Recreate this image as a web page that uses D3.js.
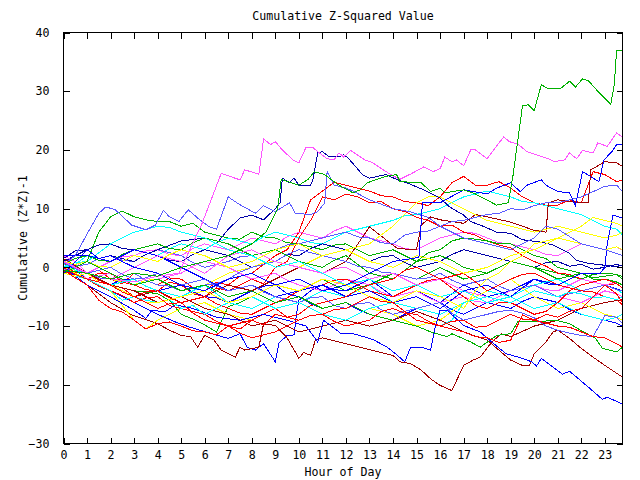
<!DOCTYPE html>
<html><head><meta charset="utf-8">
<script src="https://cdn.jsdelivr.net/npm/d3@7/dist/d3.min.js"></script>
<style>
body{margin:0;background:#fff}
svg{display:block}
text{font-family:"DejaVu Sans Mono","Liberation Mono",monospace;font-size:11.6px;fill:#000}
</style>
</head><body>
<svg id="chart" width="640" height="480"></svg>
<script>
// ---------- data ----------
const title = "Cumulative Z-Squared Value";
const xLabel = "Hour of Day";
const yLabel = "Cumulative (Z*Z)-1";
const xTickValues = [0,1,2,3,4,5,6,7,8,9,10,11,12,13,14,15,16,17,18,19,20,21,22,23];
const yTickValues = [-30, -20, -10, 0, 10, 20, 30, 40];
// half-hour sample times for the series listed as plain value arrays
const hours = [0,0.5,1,1.5,2,2.5,3,3.5,4,4.5,5,5.5,6,6.5,7,7.5,8,8.5,9,9.5,10,10.5,11,11.5,12,12.5,13,13.5,14,14.5,15,15.5,16,16.5,17,17.5,18,18.5,19,19.5,20,20.5,21,21.5,22,22.5,23,23.5,23.75];

// series given as [hour, value] pairs
const gTop = [[0,-0.5],[1,-1],[2,-2],[3,-1],[4,-1.5],[5,0],[6,1],[7,2],[8,4],[8.6,6],[9.1,10],[9.25,15],[9.6,14.5],[10,14],[10.4,15],[10.65,16.3],[11.1,15.8],[11.7,14],[12.3,12.7],[12.6,13.2],[12.9,14.4],[13.7,15.5],[14.15,15.8],[14.3,14.6],[15.2,14.4],[15.6,12.9],[16,13.5],[16.2,12.7],[17,13.2],[17.5,12.5],[18.4,10.6],[18.9,11],[19.1,15.7],[19.5,27.5],[19.75,27.7],[20,26.7],[20.3,31.1],[20.6,30.4],[21.1,30.4],[21.5,31.7],[21.75,30.7],[22.05,32.1],[22.3,31.8],[22.7,30],[23.25,27.8],[23.4,31.1],[23.5,36.9],[23.75,36.9]];
const mTop = [[0,1],[1,-1],[2,-2],[3,-2.5],[4,-1.5],[4.9,-1],[5.9,7.6],[6.7,16],[7.5,14.9],[7.7,16.6],[8.2,16],[8.3,15.8],[8.5,21.9],[8.8,20.9],[9,21.4],[9.3,20],[9.75,18.3],[10,17.8],[10.3,20.4],[10.6,20.4],[10.8,19.7],[11.2,18.5],[11.5,18.3],[11.7,19.5],[11.9,18.8],[12.2,19.9],[12.8,18.3],[13.1,17.9],[13.9,15.8],[14.3,15],[14.8,16],[15.3,17.1],[15.7,16.3],[16,16.8],[16.2,18.8],[16.5,18],[16.7,18.3],[17,17.3],[17.3,20],[17.5,20],[18,18.5],[18.35,20.4],[18.7,22.2],[18.95,21.4],[19.3,21],[19.7,19.7],[20.6,18.5],[20.85,18],[21.3,18.3],[21.5,19.5],[21.8,18.5],[22.05,19.9],[22.5,19.5],[22.7,21.2],[23.1,20.6],[23.5,22.9],[23.75,22.2]];
const nHigh = [[0,1],[0.5,2],[1,3],[1.5,1.5],[2,2],[3,1],[3.5,2.2],[4,3],[5,4.5],[6,5],[6.5,4],[7,6.5],[7.5,8.4],[8,8.9],[8.5,8.1],[9,10],[9.2,11],[9.3,15.2],[9.6,14.4],[9.8,15.2],[10,14],[10.5,14],[10.6,15],[10.8,19.5],[11,19.7],[11.3,18.8],[11.7,18.8],[11.9,19.2],[12.1,18.6],[12.7,15.8],[13,15.2],[13.7,15.8],[14.2,14.9],[14.6,14.4],[15.3,13.2],[16,11.8],[16.4,10.3],[17,8.9],[17.3,7.8],[17.9,6.9],[18.4,6],[19,5.8],[19.5,4.7],[20.3,4.3],[20.8,3.8],[21.5,2.4],[21.8,1.2],[22.3,0.7],[22.9,0.4],[23.75,0]];
const bHigh = [[0,-1],[1,3],[1.5,1.5],[2,2],[3,0],[4,-1],[5,-3],[6,-4],[7,-2],[8,-1],[9,-3],[10,-2],[11,-4],[12,-3],[13,-1],[14,1],[15.1,1.7],[15.25,11],[16,11],[17,13.2],[18,12.5],[18.4,13.5],[19,14.4],[19.4,12.9],[19.7,14],[20.3,14.9],[20.5,14],[21,12.9],[21.5,12.7],[21.75,10.5],[22.05,16.3],[22.75,14.6],[22.96,18.3],[23.3,19.7],[23.5,20.9],[23.75,21]];
const lHigh = [[0,0.5],[0.5,2],[1.1,6.4],[1.5,9.2],[1.8,10.3],[2.2,9.8],[2.9,7.2],[3.5,6.4],[3.9,7.2],[4.25,9.7],[4.5,8.6],[4.9,7.8],[5.3,9.8],[5.7,8.4],[6.2,6.9],[6.5,6.5],[7,12],[7.4,10.9],[8.15,9.2],[8.5,10.5],[9,9.5],[9.6,11],[9.85,9.2],[10.5,9],[10.8,9.5],[11.1,11],[11.2,16.3],[11.5,14],[12,13.5],[12.3,13],[13,11.5],[14,10],[14.7,9.5],[15.5,8.5],[16,7],[17,5],[18,4],[19,3],[20,5],[20.5,7],[21,6.5],[22,4],[23,3],[23.75,2]];
const drHigh = [[0,-0.5],[1,-2],[2,-3],[3,-5],[4,-4],[5,-6],[6,-5],[7,-3],[8,-4],[9,-2],[10,0],[11,-1],[12,1],[13,6.9],[13.7,4.7],[14.2,3.2],[15,3],[15.2,7.2],[15.6,8.6],[16,8.1],[17,7.5],[17.5,9],[18,8.6],[19,7.7],[20,6.3],[20.5,6],[20.6,11],[21,11.5],[22,11],[22.3,11],[22.4,16.6],[23,18],[23.5,17.8],[23.75,17.2]];
const bLow = [[0,0],[1,-3],[2,-5],[3,-7.3],[3.5,-8.7],[3.75,-7.3],[4.3,-7.6],[4.75,-6.4],[5.5,-7],[6.5,-8.5],[7.5,-9],[8.5,-8],[9.5,-9],[10.3,-10],[10.8,-12.7],[11.05,-9],[11.8,-11.3],[12.3,-11.3],[12.75,-11.8],[13.2,-12.4],[13.75,-13.6],[14.1,-14.7],[14.5,-16.1],[14.75,-13.6],[15.2,-13.6],[15.6,-14.1],[15.8,-10],[16,-7.3],[16.3,-7.3],[17,-9.9],[17.7,-11],[18.1,-12.4],[18.8,-14.7],[19.5,-15.5],[19.9,-16.1],[20.1,-16.8],[20.3,-15.5],[20.7,-16.7],[21.2,-18.2],[21.5,-17.7],[22.3,-20.4],[22.9,-22.5],[23.1,-22.1],[23.75,-23.3]];
const bJump = [[0,1],[1,-2],[2,-4],[3,-6],[4,-8],[4.75,-9.3],[5.3,-10.1],[6.3,-11.3],[7,-12.1],[7.5,-11.3],[7.8,-13.6],[8.15,-14.1],[8.5,-13],[9,-16.1],[9.15,-12.9],[9.5,-11.6],[9.8,-11.5],[9.9,-7.9],[10,-5.6],[10.5,-4],[11,-3],[11.5,-3.8],[12,-4],[13,-2],[13.5,-3.5],[14,-5],[15,-4],[16,-6],[16.5,-4.5],[17,-3],[18,-5],[19,-4],[20,-2],[20.5,-2.8],[21,-3],[22,-4],[23,-3],[23.75,-4]];
const bEnd = [[0,2],[1,2],[2,1],[3,3],[4,2],[5,0],[6,-2],[7,-4],[8,-3],[9,-5],[10,-4],[11,-3],[12,-5],[13,-4],[14,-6],[15,-5],[16,-7],[17,-4],[18,-3],[19,-5],[20,-2],[21,-3],[22,-1],[22.8,-1],[23,0],[23.1,4],[23.35,8.9],[23.75,8.4]];
const drLow = [[0,0],[1,-3],[2,-6],[2.9,-8.1],[4,-9.6],[4.5,-10.7],[5,-11.6],[5.4,-11.8],[5.7,-13.6],[6,-11.6],[6.4,-12.4],[6.7,-14.1],[7.3,-15.3],[7.5,-13.6],[7.7,-14.1],[8.3,-13.6],[8.5,-9.6],[9,-9.9],[9.5,-12],[10,-15.5],[10.2,-14.5],[10.5,-15],[10.7,-12.4],[11,-12],[12,-13],[13,-14],[14,-15],[14.3,-16.1],[14.75,-16.4],[15.2,-17.5],[15.6,-19],[16,-20.1],[16.5,-21],[17,-16.7],[17.4,-15.8],[17.7,-15.3],[18.2,-12.7],[18.6,-11.3],[19,-11.8],[20,-10],[21,-9],[22,-7],[23,-6],[23.75,-5.5]];
const drEnd = [[0,1.5],[1,-1],[2,-3],[3,-4],[4,-6],[5,-5],[6,-7],[7,-8],[8,-10],[9,-9],[10,-11],[11,-10],[12,-9],[13,-10],[14,-9],[15,-7.5],[16,-9],[17,-11],[18,-12.4],[18.5,-14.1],[19,-15.8],[19.5,-16.7],[19.8,-16.7],[20,-14.7],[20.5,-12.7],[20.8,-11],[21,-10.7],[21.5,-12.1],[22,-13.8],[22.5,-15.3],[23,-16.7],[23.75,-18.7]];
const gLow = [[0,-1],[1,1],[2,-1],[3,-3],[4,-2],[5,-4],[6,-3],[7,-5],[8,-4],[9,-6],[10,-5],[11,-7],[12,-6],[13,-8],[14,-9],[15,-10],[15.6,-11],[16.3,-11.8],[16.5,-11.3],[17.3,-12.7],[17.7,-13.6],[18.4,-11.6],[19,-11.3],[19.3,-9.3],[20,-9.3],[20.9,-9],[21.5,-9.6],[22.1,-11],[22.6,-12.1],[22.9,-13.8],[23.5,-14.4],[23.75,-13.6]];

// series given at the half-hour times above
const rA = [0.5,0.2,-1,-0.5,-2,-2.8,-1,-2.2,-3,-1.8,-2,-3.5,-4,-2.5,-3,-1.5,-1,0.5,2,3,6,11.5,13,14.5,14,13.5,13,12.2,12,11.2,11,10.5,12,14.4,15.5,14,14,14.6,13.5,12,11,10.6,10.6,11.5,11,16.3,15.8,14.6,14.9];
const rB = [-0.5,-1.5,-2,-1,-1,-2.5,-3,-3.8,-4,-2.5,-3,-4.5,-5,-3.5,-4,-3,-2,-2.8,0,1,5,8,12,11.5,12.5,12,11,11.2,10,9.5,8.5,8,7,7.2,6,5.5,4.5,3.8,3.3,2,1,0.2,-1,-1.2,-2,-2.5,-3,-2.8,-3.5];
const rC = [0.3,-0.8,-1,-2.2,-3,-3.5,-5,-4.2,-4,-5.2,-6,-5.5,-5,-6.2,-7,-7.8,-8,-7,-6,-5.2,-4,-3.5,-3,-2.2,-2,-3,-4,-4.5,-5,-4,-3,-2.2,-2,-1.5,-1,-2.5,-4,-3,-2,-1.2,-1,-2,-3,-3.5,-4,-4.2,-5,-5.5,-6.4];
const rD = [-0.5,-1.2,-2,-3.2,-4,-4.8,-6,-5.2,-5,-6.5,-7,-7.5,-8,-9.2,-10,-9.5,-9,-8,-7,-8.5,-8,-6.5,-6,-5.5,-5,-3.8,-3,-2.5,-2,-0.5,0,-1,-2,-3.5,-5,-6.5,-7,-6,-6,-7,-8,-7.5,-6,-4,-3,-2.5,-2,-2.8,-3.5];
const rE = [0,-1.2,-2,-2.5,-3,-4.2,-5,-6,-7,-6.2,-6,-7.8,-9,-9.5,-10,-11.2,-12,-11.5,-11,-10,-9,-8.2,-8,-9.2,-10,-9.5,-9,-7.5,-7,-7.8,-8,-9.2,-10,-10.5,-11,-11.8,-12,-12.8,-12.4,-8.1,-9,-9.5,-10,-10.2,-11,-11.8,-12,-13,-13.6];
const rF = [-0.5,-1.8,-3,-5.6,-7,-7.6,-9,-10.5,-9.6,-9.3,-10,-10.8,-11,-11.5,-10,-10.5,-9,-9.8,-8,-8.5,-9,-8.2,-8,-7.2,-7,-6,-5,-5.8,-6,-7.5,-9,-9.5,-10,-9.2,-9,-10.2,-10,-9,-8,-8.8,-9,-8,-8.5,-7.5,-7,-5,-3,-4.5,-6];
const bA = [1.5,0.2,-1,-2.2,-3,-2,-2,-3.2,-4,-3.5,-3,-4.2,-5,-5.2,-6,-5,-4,-3.2,-3,-4.5,-5,-6.2,-7,-6.5,-6,-7.2,-8,-8.5,-9,-8,-7,-6.5,-6,-7.2,-8,-7,-6,-6.5,-7,-5.8,-5,-5.5,-6,-7.2,-8,-8.5,-9,-9.5,-10];
const nA = [1.5,2.8,3,3.8,4,3.2,3,2.5,2,1.2,1,2.2,3,2.5,2,1,0,0.5,1,2.2,2,3.2,4,3.5,3,2,1,1.8,2,0.8,0,0.5,1,2.2,3,2.5,2,1.5,1,0.5,0,0.8,1,0.2,0.5,-0.3,0,0.5,0.2];
const lA = [1,0.2,0.5,1.5,2,1.2,1,2.2,3,2.5,2,0.8,0,0.5,1,1.8,2,2.5,3,3.8,4,4.5,5,5.5,6,5.2,5,4.2,4,5.5,6,6.2,7,7.8,8,8.5,9,9.2,10,9.8,10.5,11,11,11.5,12,12.9,13.8,14,12.9];
const lB = [-0.5,-0.2,-1,-1.8,-2,-1.5,-1,-2.2,-3,-3.2,-4,-3.5,-3,-2.8,-2,-0.8,0,0.5,1,2.2,3,2.5,2,1.5,1,0.2,0,-0.8,-1,-1.5,-2,-1.8,-1,-2.2,-3,-2.5,-2,-3.2,-4,-3.5,-3,-4,-5,-4.5,-4,-3.5,-3,-3.8,-4];
const lC = [0.8,-0.2,-1,-0.5,0,-1.2,-2,-1.8,-1,-2,-3,-2.5,-2,-3.2,-4,-3.5,-3,-4.2,-5,-5.5,-6,-5.2,-5,-6.5,-7,-6.2,-6,-7.2,-8,-7.5,-7,-6.5,-6,-7.8,-9,-8.5,-8,-7.5,-7.3,-7.8,-8.6,-10,-10.7,-11.2,-11.6,-11.8,-8.2,-8.5,-9.6];
const gA = [0,0.8,1,6,8.6,9.6,8.6,8.1,7.8,7.8,7,7.5,6,5.5,5,4.8,6,5.2,5,4.2,4,3.5,3,3.8,4,3,2,2.5,3,2,1,1.5,2,1.2,0,-0.5,-1,0,1,0.5,0,-0.5,-1,-1.5,-2,-1.2,-1,-1.2,-1.6];
const gB = [-1,-1.5,-2,-2.5,-3,-3.5,-4,-4.2,-4.5,-5.6,-8,-8.8,-9.8,-11,-6.7,-6,-5,-4,-3,-3.5,-4,-3,-2,-3,-4,-3.5,-3,-2,-1,-1.5,-2,-1,0,-1,-2,-1.5,-1,0,1,0.5,0,-1,-2,-1.5,-1,-1.8,-1.5,-1.2,-2];
const gC = [0.5,1.5,2,1.2,1,2.2,3,3.5,4,3.2,3,4.2,5,4.5,4,3,2,2.5,3,2,1,0.5,0,1.2,2,0.5,-1,-1.5,-2,-0.5,1,2.5,3,4.5,5,4.8,4.5,4,4,3,2,1.5,0,-0.5,-1,-2,-2,-2.5,-3];
const mA = [-0.5,0.3,-1,0,1,1.8,2,2.8,3,2.2,2,3.2,4,3.5,3,4,5,4.5,4,5.2,6,5.5,5,6.2,7,6,5,4.5,4,3.2,3,4,5,5.5,6,5.8,5,4.2,4,3.5,3,2.2,2,3,4,3.5,3,3.5,2.9];
const mB = [1,0,-2,-1.5,-1,-2.2,-3,-2.5,-2,-1.5,-1,0.2,1,0.5,0,-1,-2,-1.5,-1,-2.2,-3,-3.5,-4,-3,-2,-2.5,-3,-4.2,-5,-4.5,-4,-5.2,-6,-5.5,-5,-5.8,-6,-5,-4,-3.5,-3,-3.8,-4,-3,-2,-2.5,-3,-2.5,-3];
const mC = [2,1,-1,-1.5,-2,-1,0,1,2,1.5,1,0,-1,0.5,2,2.5,3,2,1,0.5,0,-0.5,-1,-0.2,0,-1,-2,-1.5,-1,-2,-3,-2.5,-2,-3,-4,-4.5,-5,-5.5,-6,-5,-4,-4.5,-5,-5.5,-6,-5,-4,-4.5,-5];
const cA = [-1,0.5,2,1.5,1,2.2,3,2.5,2,3.2,4,3.5,3,4.2,5,4.5,4,5.2,6,5.5,5,4.2,4,5,6,6.5,7,7.5,8,8.8,9,9.5,10,11,12,12.5,13,12.5,12,11.2,11,10.5,10,9.5,9,8,7,6.5,5.5];
const cB = [0.5,-0.5,-1,-2,-3,-2.5,-2,-3.2,-4,-4.5,-5,-4,-3,-4.5,-6,-6.5,-7,-6,-5,-5.5,-6,-5,-4,-4.5,-5,-4,-3,-4.5,-6,-6.5,-7,-7.5,-8,-7,-6,-5,-4,-4.5,-5,-4,-3,-2.5,-2,-3,-4,-3.5,-3,-3.8,-4.4];
const cC = [0,0.8,1,2.5,4,5,6,6.5,7,6.8,6,5.5,5,4,3,2.5,2,1,0,0.5,1,0,-1,-2,-3,-2.5,-2,-3,-4,-3.5,-3,-4,-5,-4.5,-4,-5,-6,-5.5,-5,-6,-7,-6.5,-6,-7,-8,-8.5,-9,-8.5,-8];
const cD = [-1,-1.5,-2,-3,-4,-5.6,-5,-5.6,-6,-5.5,-7,-6.5,-8,-7,-6,-5.5,-5,-6,-7,-6.5,-6,-7,-8,-8.5,-9,-8,-7,-6.5,-6,-7.5,-9,-9.5,-10,-9,-6,-5.5,-5,-5.5,-6,-5,-4,-4.5,-5,-4.2,-4.5,-5.2,-5,-5.5,-5];
const yA = [0.2,-0.5,-1,-1.5,-2,-2.5,-3,-2.2,-2,-3,-4,-3.5,-3,-2,-1,-0.5,0,0.8,1,0.5,0,1,2,2.5,3,3.5,4,5.5,7,9,11,12,12,11,10,9,8,7.5,7,6.5,6,6.5,7,6.5,6,5.5,5,5.5,6];
const yB = [0,-1,-2,-3,-4,-6.5,-9,-10.5,-9,-8,-7,-6.5,-6,-7,-8,-8.5,-9,-8,-7,-6.5,-6,-7,-8,-8.5,-9,-8,-7,-7.5,-8,-9,-10,-9.5,-9,-7.5,-6,-5,-4,-3,-2,-3.5,-5,-6,-7,-6.5,-6,-7,-8,-8.5,-9];
const yC = [1,0.5,1,0.2,0,1,2,1.5,1,2.2,3,2.5,2,1,0,0.5,1,2,3,3.5,4,3,2,2.5,3,2,1,0.5,0,1,2,1.5,1,0,-1,-0.5,0,1,2,2.5,3,4,5,4.5,4,3.5,3,3.5,3];
const yD = [-1,-1.5,-1,-2.5,-3,-4,-5,-6,-6,-5.5,-5,-4.5,-4,-5,-6,-5.5,-5,-4,-3,-3.5,-4,-3,-2,-2.5,-3,-4,-5,-5.5,-6,-5,-4,-4.5,-5,-6,-7,-4,-2,-1,1,2,4,4.5,5,6,7,8.5,8,7.5,7];

const colors = {red:"#ff0000", green:"#00b000", blue:"#0000ff", magenta:"#ff55ff", cyan:"#00ffff",
  darkred:"#a00000", yellow:"#ffff00", lavender:"#5a5aff", navy:"#0000a8"};

const seriesDefs = [
  [rA,"red"],[gA,"green"],[bA,"blue"],[mA,"magenta"],[cA,"cyan"],[drHigh,"darkred"],[yA,"yellow"],[lA,"lavender"],[nA,"navy"],
  [rB,"red"],[gB,"green"],[bJump,"blue"],[mB,"magenta"],[cB,"cyan"],[drLow,"darkred"],[yB,"yellow"],[lB,"lavender"],[nHigh,"navy"],
  [rC,"red"],[gC,"green"],[bEnd,"blue"],[mC,"magenta"],[cC,"cyan"],[drEnd,"darkred"],[yC,"yellow"],[lC,"lavender"],
  [rD,"red"],[gLow,"green"],[bLow,"blue"],[cD,"cyan"],[yD,"yellow"],[lHigh,"lavender"],
  [rE,"red"],[rF,"red"],[bHigh,"blue"],[mTop,"magenta"],[gTop,"green"]
];

// ---------- chart ----------
const svg = d3.select("#chart");
const L = 63.5, R = 622.5, T = 32.5, B = 443.5;
const x = d3.scaleLinear().domain([0, 23.75]).range([L, R]);
const y = d3.scaleLinear().domain([-30, 40]).range([B, T]);

const toPts = d => (typeof d[0] === "number") ? d.map((v, i) => [hours[i], v]) : d;
const line = d3.line().x(p => x(p[0])).y(p => y(p[1]));

svg.append("clipPath").attr("id","clip").append("rect")
  .attr("x", L).attr("y", T).attr("width", R - L).attr("height", B - T);
const lines = svg.append("g").attr("clip-path","url(#clip)");
seriesDefs.forEach(([d, c]) => {
  lines.append("path").attr("d", line(toPts(d)))
    .attr("fill","none").attr("stroke", colors[c]).attr("stroke-width", 1)
    .attr("shape-rendering","crispEdges");
});

// axes with inward ticks on all four sides
const tk = 6;
svg.append("g").attr("transform",`translate(0,${B})`)
  .call(d3.axisBottom(x).tickValues(xTickValues).tickSizeInner(-tk).tickSizeOuter(0).tickPadding(7).tickFormat(d3.format("d")));
svg.append("g").attr("transform",`translate(0,${T})`)
  .call(d3.axisTop(x).tickValues(xTickValues).tickSizeInner(-tk).tickSizeOuter(0).tickFormat(""));
svg.append("g").attr("transform",`translate(${L},0)`)
  .call(d3.axisLeft(y).tickValues(yTickValues).tickSizeInner(-tk).tickSizeOuter(0).tickPadding(14).tickFormat(d3.format("d")));
svg.append("g").attr("transform",`translate(${R},0)`)
  .call(d3.axisRight(y).tickValues(yTickValues).tickSizeInner(-tk).tickSizeOuter(0).tickFormat(""));
svg.selectAll(".domain").remove();
svg.selectAll(".tick line").attr("stroke","#000").attr("shape-rendering","crispEdges");
svg.selectAll(".tick text").style("font-family",'"DejaVu Sans Mono",monospace').style("font-size","11.6px").attr("fill","#000");

svg.append("rect").attr("x", L).attr("y", T).attr("width", R - L).attr("height", B - T)
  .attr("fill","none").attr("stroke","#000").attr("stroke-width",1).attr("shape-rendering","crispEdges");

svg.append("text").attr("x", (L + R) / 2).attr("y", 20).attr("text-anchor","middle").text(title);
svg.append("text").attr("x", (L + R) / 2).attr("y", 476).attr("text-anchor","middle").text(xLabel);
svg.append("text").attr("transform",`translate(27,${(T + B) / 2}) rotate(-90)`).attr("text-anchor","middle").text(yLabel);
</script>
</body></html>
